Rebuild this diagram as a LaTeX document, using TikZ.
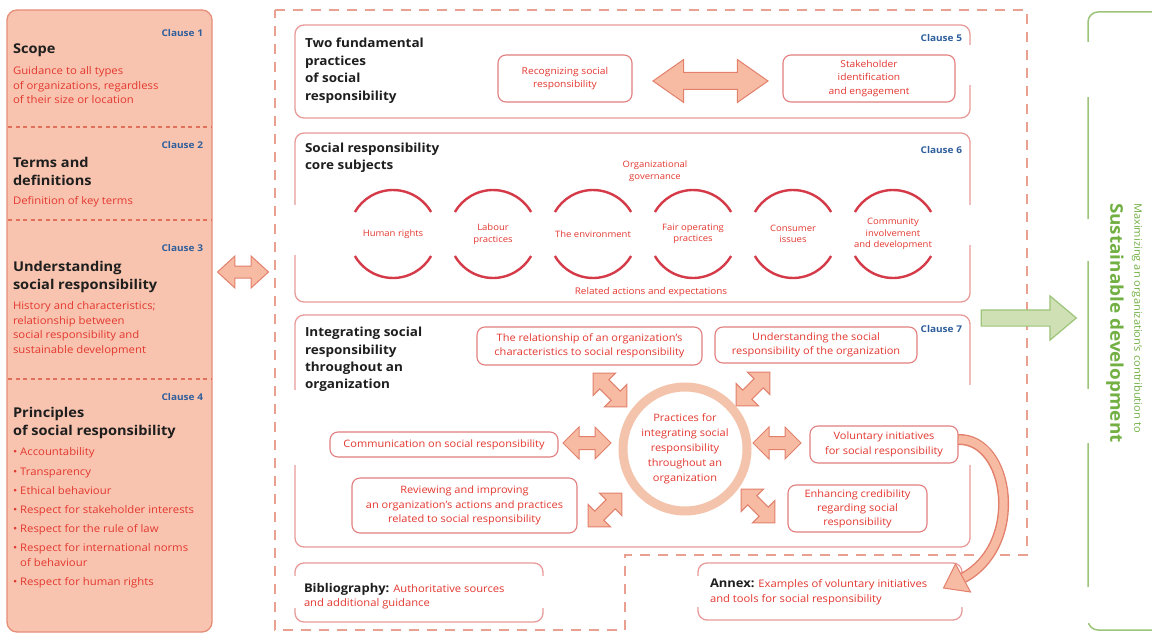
\documentclass[tikz,border=0pt]{standalone}
\usepackage{fontspec}
\setmainfont{Open Sans}[FakeStretch=1.08]
\usetikzlibrary{shapes.arrows}
\definecolor{peach}{HTML}{F9C4AF}
\definecolor{peachline}{HTML}{E58E78}
\definecolor{divline}{HTML}{E0705A}
\definecolor{txtred}{HTML}{E3372F}
\definecolor{clblue}{HTML}{2F5E9C}
\definecolor{boxline}{HTML}{E99A9A}
\definecolor{itline}{HTML}{E27E7E}
\definecolor{dashline}{HTML}{E9A090}
\definecolor{arrfill}{HTML}{F7BBA4}
\definecolor{arrline}{HTML}{E2806C}
\definecolor{arcred}{HTML}{D43A48}
\definecolor{ringc}{HTML}{F4C3AC}
\definecolor{grtext}{HTML}{72B043}
\definecolor{grline}{HTML}{9CC47A}
\definecolor{grfill}{HTML}{CFE1B4}
\definecolor{titleblk}{HTML}{1E1E1E}
\newcommand\myfs[2]{\fontsize{#1}{#2}\selectfont}
\begin{document}
\begin{tikzpicture}[x=1pt,y=-1pt,
  every node/.style={inner sep=0pt, outer sep=0pt},
  lpanel/.style={draw=peachline, fill=peach, line width=1.3pt, rounded corners=10pt},
  divdash/.style={draw=divline, line width=1.1pt, dash pattern=on 4pt off 3.5pt},
  outerdash/.style={draw=dashline, line width=1.6pt, dash pattern=on 10pt off 8pt},
  clbox/.style={draw=boxline, line width=1.3pt, rounded corners=9pt},
  itbox/.style={draw=itline, line width=1.1pt, rounded corners=8pt, text=txtred, align=center},
  clabel/.style={text=clblue, font=\bfseries\myfs{9.3}{11}, anchor=east},
  ltitle/.style={text=titleblk, font=\bfseries\myfs{13.5}{18}, align=left, anchor=north west},
  mtitle/.style={text=titleblk, font=\bfseries\myfs{12.5}{17.5}, align=left, anchor=north west},
  ltext/.style={text=txtred, font=\myfs{10.5}{14.5}, align=left, anchor=north west},
  ctext/.style={text=txtred, font=\myfs{8.8}{11.5}, align=center},
  blockarr/.style={shape=double arrow, fill=arrfill, draw=arrline, line width=1pt, inner xsep=0pt},
  arcs/.style={draw=arcred, line width=2.4pt},
  gap/.style={fill=white},
]
\useasboundingbox (0,0) rectangle (1152,634);
\fill[white] (0,0) rectangle (1152,634);

% ---------- left panel ----------
\node[lpanel, minimum width=205pt, minimum height=622pt] (lp) at (109.5,321) {};
\node[clabel] (cl1) at (203,33) {Clause 1};
\node[ltitle, anchor=west] (scope) at (13,50) {Scope};
\node[ltext] (scopet) at (13,67) {Guidance to all types\\of organizations, regardless\\of their size or location};
\draw[divdash] (8,127) -- (211,127);
\node[clabel] (cl2) at (203,145) {Clause 2};
\node[ltitle] (terms) at (13,157) {Terms and\\definitions};
\node[ltext, anchor=west] (termst) at (13,202) {Definition of key terms};
\draw[divdash] (8,220) -- (211,220);
\node[clabel] (cl3) at (203,248) {Clause 3};
\node[ltitle] (under) at (13,261) {Understanding\\social responsibility};
\node[ltext] (undert) at (13,302) {History and characteristics;\\relationship between\\social responsibility and\\sustainable development};
\draw[divdash] (8,379) -- (211,379);
\node[clabel] (cl4) at (203,397) {Clause 4};
\node[ltitle] (princ) at (13,407) {Principles\\of social responsibility};
\node[ltext, anchor=west] (b1) at (13,453) {\textbullet\ Accountability};
\node[ltext, anchor=west] (b2) at (13,473) {\textbullet\ Transparency};
\node[ltext, anchor=west] (b3) at (13,491) {\textbullet\ Ethical behaviour};
\node[ltext, anchor=west] (b4) at (13,511) {\textbullet\ Respect for stakeholder interests};
\node[ltext, anchor=west] (b5) at (13,530) {\textbullet\ Respect for the rule of law};
\node[ltext] (b6) at (13,543.5) {\textbullet\ Respect for international norms\\\hphantom{\textbullet\ }of behaviour};
\node[ltext, anchor=west] (b7) at (13,583) {\textbullet\ Respect for human rights};

% left double arrow
\node[blockarr, minimum height=51pt, minimum width=31pt, inner ysep=5.5pt, double arrow head extend=10pt, double arrow tip angle=85] (arrL) at (243,272) {};

% ---------- middle frame ----------
\draw[outerdash] (275,10) -- (1027,10) -- (1027,555) -- (625,555) -- (625,630) -- (275,630) -- cycle;

\node[clbox, minimum width=675pt, minimum height=93pt] (cl5box) at (632.5,71.5) {};
\node[clbox, minimum width=675pt, minimum height=169pt] (cl6box) at (632.5,217.5) {};
\node[clbox, minimum width=675pt, minimum height=232pt] (cl7box) at (632.5,431) {};
\node[clbox, minimum width=248pt, minimum height=59pt] (bibbox) at (419,592.5) {};
\node[clbox, minimum width=264pt, minimum height=57pt] (annbox) at (830,591.5) {};
% gaps in box borders
\fill[gap] (966,45) rectangle (974,85);
\fill[gap] (291,205) rectangle (299,255);
\fill[gap] (966,205) rectangle (974,245);
\fill[gap] (291,390) rectangle (299,465);
\fill[gap] (966,385) rectangle (974,465);
\fill[gap] (291,576) rectangle (299,608);
\fill[gap] (539,576) rectangle (547,608);
\fill[gap] (694,576) rectangle (702,607);
\fill[gap] (958,576) rectangle (966,607);

% Clause 5
\node[mtitle] (t5) at (305,38) {Two fundamental\\practices\\of social\\responsibility};
\node[clabel] (l5) at (962,38) {Clause 5};
\node[itbox, minimum width=134pt, minimum height=47pt, font=\myfs{9.5}{13}] (recog) at (565,78.5) {Recognizing social\\responsibility};
\node[itbox, minimum width=172pt, minimum height=47pt, font=\myfs{9.5}{13.5}] (stake) at (869,78.5) {Stakeholder\\identification\\and engagement};
\node[blockarr, minimum height=115pt, minimum width=42pt, inner ysep=8pt, double arrow head extend=13pt, double arrow tip angle=70] (a5) at (710.5,81) {};

% Clause 6
\node[mtitle] (t6) at (305,143) {Social responsibility\\core subjects};
\node[clabel] (l6) at (962,150) {Clause 6};
\node[ctext] (orggov) at (655,171) {Organizational\\governance};
\foreach \nm/\cx/\txt in {hr/393/{Human rights}, lab/493/{Labour\\practices}, env/593/{The environment}, fop/693/{Fair operating\\practices}, ci/793/{Consumer\\issues}, cid/893/{Community\\involvement\\and development}} {
  \node[ctext] (\nm) at (\cx,234) {\txt};
  \draw[arcs] (\nm.center) ++(30:44pt) arc[start angle=30, end angle=150, radius=44pt];
  \draw[arcs] (\nm.center) ++(210:44pt) arc[start angle=210, end angle=330, radius=44pt];
}
\node[ctext, font=\myfs{9.2}{11}] (relact) at (651,292) {Related actions and expectations};

% Clause 7
\node[mtitle] (t7) at (305,327) {Integrating social\\responsibility\\throughout an\\organization};
\node[clabel] (l7) at (962,329) {Clause 7};
\node[itbox, minimum width=225pt, minimum height=38pt, font=\myfs{10.2}{14.5}] (relbox) at (589.5,346) {The relationship of an organization’s\\characteristics to social responsibility};
\node[itbox, minimum width=202pt, minimum height=36pt, font=\myfs{10.2}{14.5}] (undbox) at (816,345) {Understanding the social\\responsibility of the organization};
\node[itbox, minimum width=228pt, minimum height=25pt, font=\myfs{10.2}{14.5}] (combox) at (444,444.5) {Communication on social responsibility};
\node[itbox, minimum width=225pt, minimum height=55pt, font=\myfs{10.2}{14.5}] (revbox) at (464.5,505.5) {Reviewing and improving\\an organization’s actions and practices\\related to social responsibility};
\node[itbox, minimum width=148pt, minimum height=37pt, font=\myfs{10.2}{14.5}] (volbox) at (884,444.5) {Voluntary initiatives\\for social responsibility};
\node[itbox, minimum width=139pt, minimum height=47pt, font=\myfs{10.2}{14}] (enhbox) at (857.5,508.5) {Enhancing credibility\\regarding social\\responsibility};
\node[circle, draw=ringc, line width=9pt, minimum size=124pt, text=txtred, align=center, font=\myfs{10.2}{15}] (prac) at (685,449) {Practices for\\integrating social\\responsibility\\throughout an\\organization};

\tikzset{sarr/.style={blockarr, minimum height=48pt, minimum width=31pt, inner ysep=6pt, double arrow head extend=9.5pt, double arrow tip angle=90}}
\node[sarr, rotate=-45] (a71) at (610,390) {};
\node[sarr, rotate=45] (a72) at (753,389) {};
\node[sarr] (a73) at (587,443) {};
\node[sarr] (a74) at (777,443) {};
\node[sarr, rotate=45] (a75) at (605,510) {};
\node[sarr, rotate=-45] (a76) at (758,506) {};

% Bibliography and Annex
\node[anchor=north west, align=left, text=txtred, font=\myfs{10.4}{14.5}] (bibt) at (304,583) {{\color{titleblk}\bfseries\myfs{12}{14.5}Bibliography:} Authoritative sources\\and additional guidance};
\node[anchor=north west, align=left, text=txtred, font=\myfs{10.4}{14.5}] (annt) at (710,579) {{\color{titleblk}\bfseries\myfs{12}{14.5}Annex:} Examples of voluntary initiatives\\and tools for social responsibility};

% curved arrow from voluntary initiatives to annex
\coordinate (cvs) at ([yshift=5pt]volbox.east);
\coordinate (cve) at (963,578);
\draw[arrline, line width=11pt] (cvs) .. controls (1010,438) and (1025,545) .. (cve);
\draw[arrfill, line width=8.2pt, shorten <=0.5pt] (cvs) .. controls (1010,438) and (1025,545) .. (cve);
\filldraw[fill=arrfill, draw=arrline, line width=1pt] (943.5,588) -- (955.5,564) -- (970.5,592) -- cycle;

% ---------- right green panel ----------
\node[draw=grline, line width=1.5pt, rounded corners=10pt, minimum width=90pt, minimum height=618pt] (gp) at (1133,321) {};
\fill[gap] (1084,42) rectangle (1093,97);
\fill[gap] (1084,219) rectangle (1093,261);
\fill[gap] (1084,389) rectangle (1093,443);
\fill[gap] (1084,587) rectangle (1093,623);
\node[shape=single arrow, fill=grfill, draw=grline, line width=1.2pt, minimum height=95pt, minimum width=43pt, inner ysep=7.5pt, inner xsep=0pt, single arrow head extend=14pt, single arrow tip angle=80] (garr) at (1024,318) {};
\node[rotate=-90, anchor=west, text=grtext, font=\myfs{10.3}{12}] (maxt) at (1137,203) {Maximizing an organization’s contribution to};
\node[rotate=-90, anchor=west, text=grtext, font=\bfseries\myfs{17.5}{21}] (sdt) at (1115,203) {Sustainable development};
\end{tikzpicture}
\end{document}
